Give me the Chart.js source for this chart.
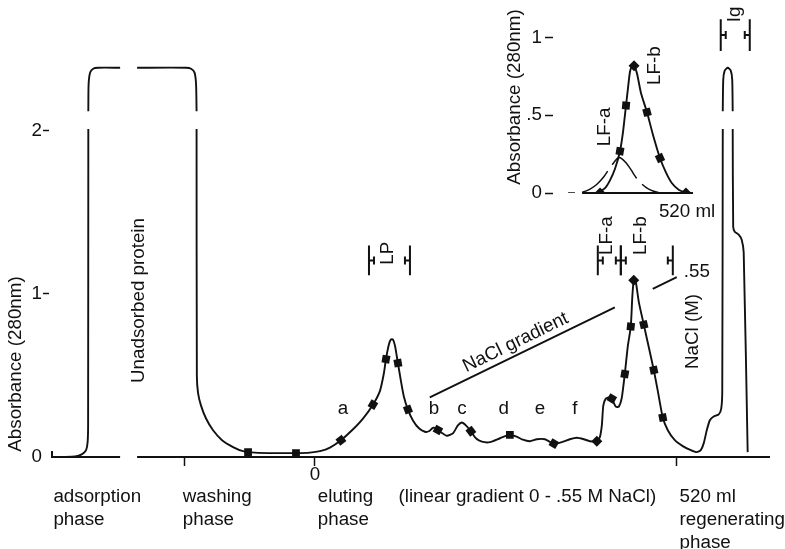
<!DOCTYPE html>
<html>
<head>
<meta charset="utf-8">
<script src="https://cdn.jsdelivr.net/npm/chart.js@4.4.1/dist/chart.umd.min.js"></script>
<style>
  html, body { margin: 0; padding: 0; background: #fff; }
  #wrap { position: relative; width: 785px; height: 549px; }
  #main { position: absolute; left: 0; top: 0; }
  #inset { position: absolute; left: 490px; top: 0; }
</style>
</head>
<body>
<div id="wrap">
  <canvas id="main" width="785" height="549"></canvas>
  <canvas id="inset" width="240" height="240"></canvas>
</div>
<script>
// elution profile: volume in ml (0 = start of gradient), absorbance 280nm
// null = axis break in the trace
var profileMl = [-363.4, -344.8, -334.7, -329.0, -326.8, -326.1, -325.8, -325.8, -325.8, -325.4, -323.2, -318.9, -311.7, -280.1,
  -268, -255.7, -185.3, -178.1, -173.1, -170.9, -170.2, -170.2, -170.2, -169.8, -168.1, -163.8, -156.6, -146.5, -133.6,
  -117.8, -103.4, -86.2, -57.5, -27.3, -7.2, 7.2, 21.5, 37.3, 53.2, 69.0, 83.3, 93.4, 99.1, 102.0, 106.3, 109.2, 112.0,
  114.9, 119.2, 123.5, 127.8, 133.6, 140.8, 149.4, 158.0, 163.8, 169.5, 173.8, 181.0, 189.6, 198.2, 205.4, 211.2, 216.9,
  224.1, 231.3, 239.9, 251.4, 265.8, 278.7, 288.7, 298.8, 308.8, 318.9, 330.4, 343.3, 354.8, 366.3, 376.4, 386.4, 395.0,
  405.1, 409.4, 412.3, 414.4, 418.0, 423.7, 428.0, 432.4, 436.7, 441.0, 445.3, 449.6, 453.9, 456.1, 458.2, 461.1, 465.4,
  472.6, 479.8, 487.0, 492.7, 499.9, 507.1, 517.2, 528.6, 540.1, 548.7, 554.5, 558.8, 563.1, 567.4, 573.1, 580.3, 583.9,
  585.4, 586.1, 586.1, 586.1, 586.8, 588.9, 593.3, 597.6, 599.7, 600.4, 600.4, 600.4, 601.1, 603.3, 609.0, 613.3, 616.2, 621.9];
var profileAbs = [0, 0.003, 0.018, 0.042, 0.091, 0.194, 2.012, null, 2.121, 2.285, 2.358, 2.382, 2.388, 2.388,
  null, 2.388, 2.388, 2.382, 2.358, 2.285, 2.121, null, 2.012, 0.497, 0.394, 0.315, 0.236, 0.164, 0.103,
  0.061, 0.036, 0.027, 0.024, 0.024, 0.027, 0.036, 0.058, 0.103, 0.164, 0.236, 0.321, 0.406, 0.515, 0.600, 0.691, 0.721, 0.721,
  0.685, 0.576, 0.467, 0.370, 0.291, 0.224, 0.176, 0.155, 0.158, 0.179, 0.176, 0.152, 0.130, 0.145, 0.194, 0.212, 0.194,
  0.158, 0.115, 0.094, 0.091, 0.115, 0.136, 0.127, 0.106, 0.097, 0.109, 0.109, 0.082, 0.091, 0.109, 0.118, 0.109, 0.097,
  0.097, 0.121, 0.194, 0.315, 0.358, 0.367, 0.345, 0.309, 0.309, 0.364, 0.509, 0.679, 0.800, 0.982, 1.085, 1.073, 0.952,
  0.812, 0.673, 0.533, 0.406, 0.242, 0.164, 0.103, 0.067, 0.042, 0.030, 0.042, 0.085, 0.164, 0.224, 0.248, 0.261, 0.297,
  0.406, 2.012, null, 2.121, 2.315, 2.370, 2.388, 2.370, 2.315, 2.121, null, 2.012, 1.412, 1.382, 1.364, 1.333, 1.255, 0.030];

// collected fractions (markers)
var fracMl = [-96.2, -27.3, 37.3, 83.3, 102.0, 119.2, 133.6, 176.7, 224.1, 280.1, 343.3, 405.1, 426.6, 445.3, 453.9, 458.2, 472.6, 487.0, 499.9];
var fracAbs = [0.030, 0.024, 0.103, 0.321, 0.600, 0.576, 0.291, 0.166, 0.158, 0.136, 0.082, 0.097, 0.358, 0.509, 0.800, 1.085, 0.812, 0.533, 0.242];
var fracTilt = [0, 0, 52, 31, 10, -10, -21, 29, 52, 0, 30, 45, 30, 10, 6, 45, -13, -12, -11];

// NaCl gradient 0 - .55 M (line interrupted by the LF peak)
var gradientMl = [165, 431, 458, 485.5, 520];
var gradientM = [0.175, 0.456, null, 0.5135, 0.55];

var xTicks = [-187, 0, 520];
var xTickLabels = ['', '0', ''];
var yTicks = [0, 1, 2];
var axisBreak = [-280.1, -255.7];

var phaseMl = [-376, -190, 4, 120, 524];
var phaseLines = [['adsorption', 'phase'], ['washing', 'phase'], ['eluting', 'phase'],
  ['(linear gradient 0 - .55 M NaCl)'], ['520 ml', 'regenerating', 'phase']];

var peakLetters = ['a', 'b', 'c', 'd', 'e', 'f'];
var peakLetterMl = [40.2, 171.0, 211.2, 271.2, 323.2, 373.5];

var poolNames = ['LP', 'LF-a', 'LF-b', 'Ig'];
var poolFrom = [77.6, 406.5, 439.6, 583.2];
var poolTo = [136.5, 439.6, 514.3, 624.9];
var poolLow = [1.115, 1.115, 1.115, 2.491];
var poolHigh = [1.297, 1.297, 1.297, 2.685];
var poolLabelMl = [104.5, 419.5, 468.3, 603.3];
var poolLabelAbs = [1.25, 1.358, 1.358, 2.715];

// inset: LF peak, resolved into LF-a (dashed) and LF-b
var insetMl = [433.6, 440.0, 444.5, 449.1, 453.6, 456.4, 459.1, 460.9, 462.7, 464.5, 466.4, 469.1, 472.7, 478.2, 483.6, 490.0, 495.5, 500.9, 507.3, 513.6];
var insetAbs = [0, 0.031, 0.081, 0.156, 0.269, 0.394, 0.5625, 0.675, 0.78, 0.815, 0.82, 0.769, 0.644, 0.519, 0.375, 0.225, 0.131, 0.0625, 0.019, 0];
var lfaMl = [406.4, 412.7, 420, 426.4, 432.7, 439.1, 444.5, 449.1, 451.8, 454.5, 459.1, 463.6, 468.2, 472.7, 478.2, 483.6, 490];
var lfaAbs = [0, 0, 0.006, 0.025, 0.056, 0.106, 0.1625, 0.206, 0.225, 0.225, 0.194, 0.15, 0.1, 0.0625, 0.031, 0.0125, 0];
var insetFracMl = [435.5, 453.6, 459.1, 466.4, 478.2, 490.0, 513.6];
var insetFracAbs = [0, 0.269, 0.5625, 0.819, 0.519, 0.225, 0];
var insetFracTilt = [45, 10, 5, 45, -15, -25, 45];
var insetYTicks = [0, 0.5, 1];

var ink = '#111';
var font = '18.8px "Liberation Sans", Arial, Helvetica, sans-serif';
Chart.defaults.font.family = '"Liberation Sans", Arial, Helvetica, sans-serif';
Chart.defaults.font.size = 18.8;
Chart.defaults.color = ink;

function pairs(xs, ys) {
  return xs.map(function (x, i) { return { x: x, y: ys[i] }; });
}

function label(ctx, s, x, y, rot, align) {
  ctx.save();
  ctx.translate(x, y);
  ctx.rotate((rot || 0) * Math.PI / 180);
  ctx.textAlign = align || 'center';
  ctx.textBaseline = 'middle';
  ctx.fillText(s, 0, 0);
  ctx.restore();
}

function bracket(ctx, x, yTop, yBot, yMid, dir) {
  ctx.beginPath();
  ctx.moveTo(x, yTop); ctx.lineTo(x, yBot);
  ctx.moveTo(x, yMid); ctx.lineTo(x + 5 * dir, yMid);
  ctx.moveTo(x + 5 * dir, yMid - 4); ctx.lineTo(x + 5 * dir, yMid + 4);
  ctx.stroke();
}

var mainDecor = {
  id: 'mainDecor',
  afterDraw: function (chart) {
    var ctx = chart.ctx, a = chart.chartArea;
    var xs = chart.scales.x, ys = chart.scales.y, yn = chart.scales.yNaCl;
    function px(v) { return xs.getPixelForValue(v); }
    function py(v) { return ys.getPixelForValue(v); }
    ctx.save();
    ctx.strokeStyle = ink; ctx.fillStyle = ink; ctx.font = font;

    // x axis with break
    ctx.lineWidth = 2;
    ctx.beginPath();
    ctx.moveTo(a.left, a.bottom - 6); ctx.lineTo(a.left, a.bottom); ctx.lineTo(px(axisBreak[0]), a.bottom);
    ctx.moveTo(px(axisBreak[1]), a.bottom); ctx.lineTo(a.right, a.bottom);
    ctx.stroke();

    // pooled fractions
    for (var i = 0; i < poolNames.length; i++) {
      var t = py(poolHigh[i]), b = py(poolLow[i]), m = (t + b) / 2;
      bracket(ctx, px(poolFrom[i]), t, b, m, 1);
      bracket(ctx, px(poolTo[i]), t, b, m, -1);
      label(ctx, poolNames[i], px(poolLabelMl[i]), py(poolLabelAbs[i]), -90);
    }

    // peak letters
    peakLetters.forEach(function (s, k) { label(ctx, s, px(peakLetterMl[k]), py(0.297)); });

    // phase labels under the axis
    phaseLines.forEach(function (lines, k) {
      lines.forEach(function (s, r) { label(ctx, s, px(phaseMl[k]), a.bottom + 40 + r * 23, 0, 'left'); });
    });

    label(ctx, 'Absorbance (280nm)', 16, 364, -90);
    label(ctx, 'Unadsorbed protein', px(-253), py(0.96), -90);

    // gradient annotations
    var x1 = px(gradientMl[0]), y1 = yn.getPixelForValue(gradientM[0]);
    var x2 = px(gradientMl[4]), y2 = yn.getPixelForValue(gradientM[4]);
    var ang = Math.atan2(y2 - y1, x2 - x1);
    var mx = px(296), my = yn.getPixelForValue(0.55 * 296 / 520);
    label(ctx, 'NaCl gradient', mx + 12 * Math.sin(ang), my - 12 * Math.cos(ang), ang * 180 / Math.PI);
    label(ctx, '.55', px(530), py(1.139), 0, 'left');
    label(ctx, 'NaCl (M)', px(542.5), py(0.77), -90);
    ctx.restore();
  }
};

new Chart(document.getElementById('main'), {
  type: 'line',
  data: {
    datasets: [
      { data: pairs(profileMl, profileAbs), borderColor: ink, borderWidth: 1.9, pointRadius: 0, tension: 0.2, spanGaps: false },
      { data: pairs(fracMl, fracAbs), showLine: false, pointStyle: 'rect', pointRadius: 5.5, pointBackgroundColor: ink,
        pointBorderColor: ink, pointBorderWidth: 0, pointRotation: fracTilt },
      { data: pairs(gradientMl, gradientM), yAxisID: 'yNaCl', borderColor: ink, borderWidth: 1.9, pointRadius: 0, tension: 0, spanGaps: false }
    ]
  },
  options: {
    responsive: false,
    animation: false,
    events: [],
    layout: { padding: { left: 0, right: 15, top: 0, bottom: 0 } },
    plugins: { legend: { display: false }, tooltip: { enabled: false } },
    scales: {
      x: {
        type: 'linear', min: -378, max: 654,
        afterBuildTicks: function (s) { s.ticks = xTicks.map(function (v) { return { value: v }; }); },
        afterFit: function (s) { s.height = 92; s.paddingLeft = 0; s.paddingRight = 0; },
        border: { display: false },
        grid: { drawOnChartArea: false, drawTicks: true, tickLength: 9, tickWidth: 1.5, tickColor: ink },
        ticks: { padding: -2, maxRotation: 0, autoSkip: false, color: ink,
          callback: function (v) { return xTickLabels[xTicks.indexOf(v)]; } }
      },
      y: {
        min: 0, max: 457 / 165,
        afterBuildTicks: function (s) { s.ticks = yTicks.map(function (v) { return { value: v }; }); },
        afterFit: function (s) { s.width = 52; s.paddingTop = 0; s.paddingBottom = 0; },
        border: { display: false },
        grid: { drawOnChartArea: false, drawTicks: true, tickLength: 9, tickWidth: 1.5, tickBorderDash: [6, 20],
          tickColor: function (c) { return c.tick && c.tick.value === 0 ? 'rgba(0,0,0,0)' : ink; } },
        ticks: { padding: 1, color: ink, callback: function (v) { return String(v); } }
      },
      yNaCl: { type: 'linear', display: false, min: -0.0107, max: 1.3974 }
    }
  },
  plugins: [mainDecor]
});

var insetDecor = {
  id: 'insetDecor',
  afterDraw: function (chart) {
    var ctx = chart.ctx, a = chart.chartArea, xs = chart.scales.x, ys = chart.scales.y;
    ctx.save();
    ctx.strokeStyle = ink; ctx.fillStyle = ink; ctx.font = font; ctx.lineWidth = 2;
    ctx.beginPath();
    ctx.moveTo(xs.getPixelForValue(419.1), a.bottom); ctx.lineTo(xs.getPixelForValue(520), a.bottom);
    ctx.stroke();
    label(ctx, 'Absorbance (280nm)', 25, 97, -90);
    label(ctx, 'LF-a', xs.getPixelForValue(440), ys.getPixelForValue(0.425), -90);
    label(ctx, 'LF-b', xs.getPixelForValue(485.5), ys.getPixelForValue(0.819), -90);
    label(ctx, '520 ml', xs.getPixelForValue(489), ys.getPixelForValue(-0.119), 0, 'left');
    ctx.restore();
  }
};

new Chart(document.getElementById('inset'), {
  type: 'line',
  data: {
    datasets: [
      { data: pairs(insetMl, insetAbs), borderColor: ink, borderWidth: 1.9, pointRadius: 0, tension: 0.2 },
      { data: pairs(lfaMl, lfaAbs), borderColor: ink, borderWidth: 1.5, pointRadius: 0, tension: 0.2,
        borderDash: [7, 7, 34, 8, 38, 8, 30, 60] },
      { data: pairs(insetFracMl, insetFracAbs), showLine: false, pointStyle: 'rect', pointRadius: 5.5,
        pointBackgroundColor: ink, pointBorderWidth: 0, pointRotation: insetFracTilt }
    ]
  },
  options: {
    responsive: false,
    animation: false,
    events: [],
    layout: { padding: { left: 0, right: 30, top: 0, bottom: 47 } },
    plugins: { legend: { display: false }, tooltip: { enabled: false } },
    scales: {
      x: { type: 'linear', min: 392.7, max: 526.4, display: false },
      y: {
        min: 0, max: 193 / 160,
        afterBuildTicks: function (s) { s.ticks = insetYTicks.map(function (v) { return { value: v }; }); },
        afterFit: function (s) { s.width = 63; s.paddingTop = 0; s.paddingBottom = 0; },
        border: { display: false },
        grid: { drawOnChartArea: false, drawTicks: true, tickLength: 8, tickWidth: 1.5, tickColor: ink },
        ticks: { padding: 3, color: ink, callback: function (v) { return v === 0.5 ? '.5' : String(v); } }
      }
    }
  },
  plugins: [insetDecor]
});
</script>
</body>
</html>
